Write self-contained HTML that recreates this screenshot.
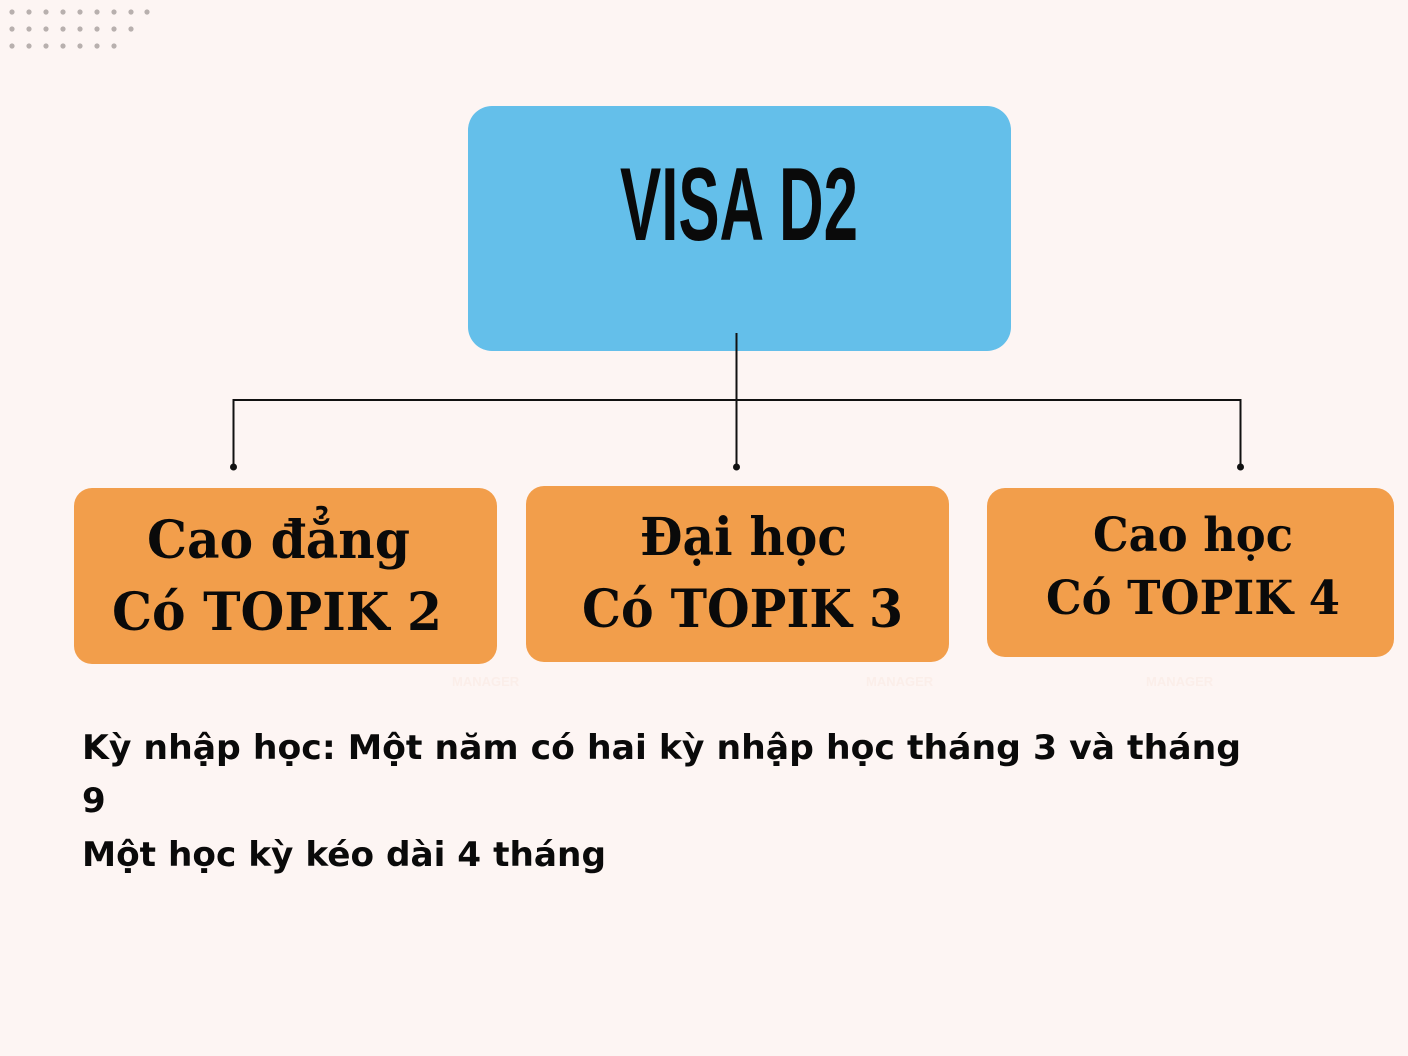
<!DOCTYPE html>
<html><head><meta charset="utf-8"><style>
html,body{margin:0;padding:0;background:#fdf5f3;}
svg{display:block}
</style></head><body>
<svg width="1408" height="1056" viewBox="0 0 1408 1056" xmlns="http://www.w3.org/2000/svg">
<rect width="1408" height="1056" fill="#fdf5f3"/>
<g fill="#b8b0ae">
<circle cx="12" cy="12" r="2.6"/><circle cx="29" cy="12" r="2.6"/><circle cx="46" cy="12" r="2.6"/><circle cx="63" cy="12" r="2.6"/><circle cx="80" cy="12" r="2.6"/><circle cx="97" cy="12" r="2.6"/><circle cx="114" cy="12" r="2.6"/><circle cx="131" cy="12" r="2.6"/><circle cx="147" cy="12" r="2.6"/>
<circle cx="12" cy="29" r="2.6"/><circle cx="29" cy="29" r="2.6"/><circle cx="46" cy="29" r="2.6"/><circle cx="63" cy="29" r="2.6"/><circle cx="80" cy="29" r="2.6"/><circle cx="97" cy="29" r="2.6"/><circle cx="114" cy="29" r="2.6"/><circle cx="131" cy="29" r="2.6"/>
<circle cx="12" cy="46" r="2.6"/><circle cx="29" cy="46" r="2.6"/><circle cx="46" cy="46" r="2.6"/><circle cx="63" cy="46" r="2.6"/><circle cx="80" cy="46" r="2.6"/><circle cx="97" cy="46" r="2.6"/><circle cx="114" cy="46" r="2.6"/>
</g>
<rect x="468" y="106" width="543" height="245" rx="24" fill="#64bfea"/>
<text x="620" y="240" font-family="Liberation Sans Narrow, Liberation Sans, sans-serif" font-weight="bold" font-size="104" textLength="238" lengthAdjust="spacingAndGlyphs" fill="#0a0a0a">VISA D2</text>
<g stroke="#111" stroke-width="2" fill="none">
<line x1="736.5" y1="333" x2="736.5" y2="467"/>
<polyline points="233.5,467 233.5,400 1240.5,400 1240.5,467"/>
</g>
<g fill="#111"><circle cx="233.5" cy="467" r="3.5"/><circle cx="736.5" cy="467" r="3.5"/><circle cx="1240.5" cy="467" r="3.5"/></g>
<g fill="#f29e4b">
<rect x="74" y="488" width="423" height="176" rx="18"/>
<rect x="526" y="486" width="423" height="176" rx="18"/>
<rect x="987" y="488" width="407" height="169" rx="18"/>
</g>
<g font-family="DejaVu Serif, Liberation Serif, serif" font-weight="bold" fill="#0a0a0a" lengthAdjust="spacingAndGlyphs">
<text x="147" y="558" font-size="52" textLength="263" lengthAdjust="spacingAndGlyphs">Cao đẳng</text>
<text x="112" y="630" font-size="52" textLength="330" lengthAdjust="spacingAndGlyphs">Có TOPIK 2</text>
<text x="640" y="555" font-size="52" textLength="207" lengthAdjust="spacingAndGlyphs">Đại học</text>
<text x="582" y="627" font-size="52" textLength="321" lengthAdjust="spacingAndGlyphs">Có TOPIK 3</text>
<text x="1093" y="551" font-size="47" textLength="200" lengthAdjust="spacingAndGlyphs">Cao học</text>
<text x="1046" y="614" font-size="47" textLength="294" lengthAdjust="spacingAndGlyphs">Có TOPIK 4</text>
</g>
<g font-family="Liberation Sans, sans-serif" font-size="13" fill="#fbeee9" font-weight="bold">
<text x="452" y="686">MANAGER</text><text x="866" y="686">MANAGER</text><text x="1146" y="686">MANAGER</text>
</g>
<g font-family="DejaVu Sans, Liberation Sans, sans-serif" font-weight="bold" font-size="34" fill="#0a0a0a">
<text x="82" y="759" textLength="1159" lengthAdjust="spacingAndGlyphs">Kỳ nhập học:  Một năm có hai kỳ nhập học tháng 3 và tháng</text>
<text x="82" y="812">9</text>
<text x="82" y="866" textLength="524" lengthAdjust="spacingAndGlyphs">Một học kỳ kéo dài 4 tháng</text>
</g>
</svg>
</body></html>
